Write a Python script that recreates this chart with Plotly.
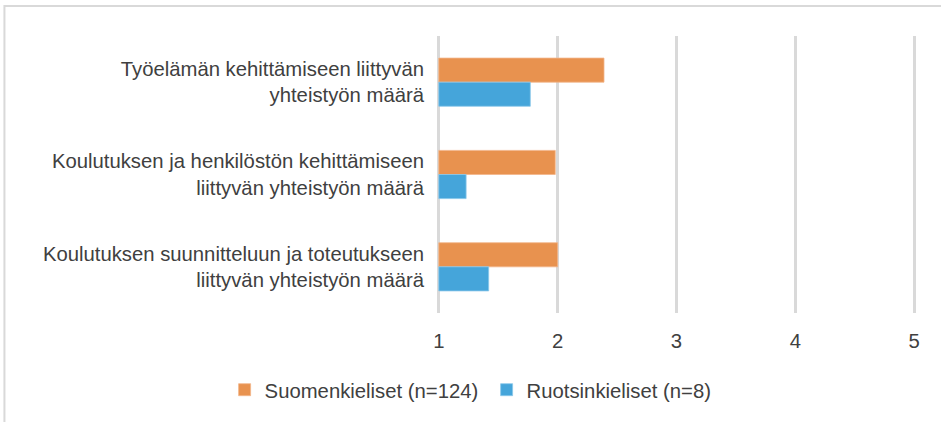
import plotly.graph_objects as go

categories = [
    "Työelämän kehittämiseen liittyvän<br>yhteistyön määrä",
    "Koulutuksen ja henkilöstön kehittämiseen<br>liittyvän yhteistyön määrä",
    "Koulutuksen suunnitteluun ja toteutukseen<br>liittyvän yhteistyön määrä",
]
suomi_values = [2.39, 1.98, 2.00]
ruotsi_values = [1.77, 1.23, 1.42]
series_names = ["Suomenkieliset (n=124)", "Ruotsinkieliset (n=8)"]
tick_values = [1, 2, 3, 4, 5]

ORANGE = "#E8924F"
BLUE = "#45A5DA"
TEXT = "#404040"
GRID = "#D9D9D9"
FS = 20.3

W, H = 941, 422
L, R, T, B = 437.2, 25.2, 36, 109

fig = go.Figure()
fig.add_trace(go.Bar(
    y=categories, x=[v - 1 for v in suomi_values], base=1, orientation="h",
    name=series_names[0], marker=dict(color=ORANGE, line=dict(color="#F2B58A", width=0.8)),
))
fig.add_trace(go.Bar(
    y=categories, x=[v - 1 for v in ruotsi_values], base=1, orientation="h",
    name=series_names[1], marker=dict(color=BLUE, line=dict(color="#8CC8EA", width=0.8)),
))

pw = W - L - R
ph = H - T - B

def px_x(p):
    return (p - L) / pw

def px_y(p):
    return (H - B - p) / ph

fig.update_layout(
    width=W, height=H,
    margin=dict(l=L, r=R, t=T, b=B, pad=0, autoexpand=False),
    paper_bgcolor="white", plot_bgcolor="white",
    barmode="group", bargap=0.478, bargroupgap=0,
    font=dict(family="Liberation Sans, Arial, sans-serif", size=FS, color=TEXT),
    xaxis=dict(
        range=[0.985, 5.015], tickvals=tick_values, ticktext=[str(t) for t in tick_values],
        showgrid=True, gridcolor=GRID, gridwidth=2.5, zeroline=False,
        showline=False, ticks="", ticklabelstandoff=14, automargin=False,
        tickfont=dict(size=FS, color=TEXT),
    ),
    yaxis=dict(
        autorange="reversed", showgrid=False, showline=False, ticks="",
        ticklabelstandoff=12, automargin=False, tickfont=dict(size=FS, color=TEXT),
    ),
    showlegend=True,
    legend=dict(
        orientation="h", x=px_x(225), xanchor="left", y=px_y(370), yanchor="top",
        entrywidth=217, entrywidthmode="pixels", itemwidth=30,
        font=dict(size=FS, color=TEXT), bgcolor="rgba(0,0,0,0)",
    ),
    shapes=[dict(
        type="rect", xref="paper", yref="paper",
        x0=px_x(5), x1=px_x(960), y0=px_y(440), y1=px_y(6),
        line=dict(color=GRID, width=2), fillcolor="rgba(0,0,0,0)", layer="below",
    )],
)

fig.write_html("out.html", config={"displayModeBar": False},
               post_script="document.body.style.margin='0';")
